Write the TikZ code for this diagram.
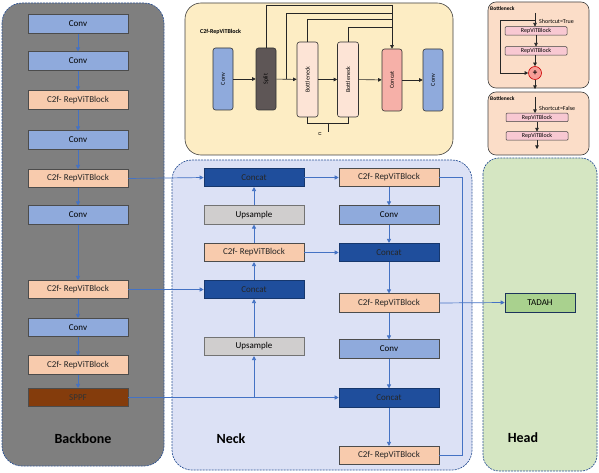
\documentclass[tikz,border=0pt]{standalone}
\usepackage{fontspec}
\setmainfont{Carlito}
\usetikzlibrary{arrows.meta}
\definecolor{convc}{HTML}{8FAADC}
\definecolor{c2fc}{HTML}{F8CBAD}
\definecolor{catc}{HTML}{1F4E9C}
\definecolor{upc}{HTML}{D0CECE}
\definecolor{sppfc}{HTML}{843C0C}
\definecolor{linec}{HTML}{4472C4}
\definecolor{dashc}{HTML}{2F5597}
\definecolor{bbc}{HTML}{7F7F7F}
\definecolor{neckc}{HTML}{DCE1F5}
\definecolor{headc}{HTML}{D5E6C2}
\definecolor{tadahc}{HTML}{A9D18E}
\definecolor{topc}{HTML}{FDEDC4}
\definecolor{splitc}{HTML}{5E5656}
\definecolor{tcatc}{HTML}{F6B0A8}
\definecolor{bnc}{HTML}{FDE4D6}
\definecolor{bnpc}{HTML}{FBDDC8}
\definecolor{rvc}{HTML}{F8C8D2}
\begin{document}
\begin{tikzpicture}[x=1pt,y=-1pt,
	panel/.style={draw=dashc,dash pattern=on 2pt off 1pt,line width=0.7pt,rounded corners=20pt},
	blk/.style={draw=black!70,line width=0.6pt,minimum width=100pt,minimum height=18.5pt,inner sep=0pt,font=\fontsize{9}{10}\selectfont},
	conv/.style={blk,fill=convc},
	c2f/.style={blk,fill=c2fc,text=black!85},
	cat/.style={blk,fill=catc,draw=catc!70!black,text=black!85},
	upsmp/.style={blk,fill=upc,draw=black!55},
	arr/.style={draw=linec,line width=0.7pt,-{Triangle[length=4pt,width=4pt]}},
	link/.style={draw=linec,line width=0.7pt},
	title/.style={font=\fontsize{14}{16}\bfseries\selectfont},
	vblk/.style={draw=black!80,line width=0.6pt,rounded corners=2.5pt,minimum width=62pt,minimum height=20pt,inner sep=0pt,rotate=90,font=\fontsize{6}{7}\selectfont},
	tarr/.style={draw=black!85,line width=0.6pt,-{Triangle[length=3.5pt,width=3.5pt]}},
	tlink/.style={draw=black!85,line width=0.6pt},
	rv/.style={draw=black!75,line width=0.5pt,rounded corners=1pt,fill=rvc,minimum width=62pt,minimum height=8.5pt,inner sep=0pt,font=\fontsize{6}{7}\selectfont},
	small/.style={font=\fontsize{6}{7}\selectfont,inner sep=0pt}]
	\useasboundingbox (0,0) rectangle (599,473);
	% panels
	\draw[panel,fill=bbc] (2,3) rectangle (164,466);
	\draw[panel,fill=neckc] (172,160) rectangle (472,470);
	\draw[panel,fill=headc,rounded corners=16pt] (483,158) rectangle (597,471);
	\node[title] (bbt) at (83,439) {Backbone};
	\node[title] (neckt) at (231,439) {Neck};
	\node[title] (headt) at (523,438) {Head};
	% backbone
	\node[conv] (b1) at (78,24) {Conv};
	\node[conv] (b2) at (78,61) {Conv};
	\node[c2f] (b3) at (78,100) {C2f- RepViTBlock};
	\node[conv] (b4) at (78,140) {Conv};
	\node[c2f] (b5) at (78,178.5) {C2f- RepViTBlock};
	\node[conv] (b6) at (78,215) {Conv};
	\node[c2f] (b7) at (78,289.5) {C2f- RepViTBlock};
	\node[conv] (b8) at (78,327.5) {Conv};
	\node[c2f] (b9) at (78,365) {C2f- RepViTBlock};
	\node[blk,fill=sppfc,text=black!80] (b10) at (78,397.5) {SPPF};
	\foreach \i [evaluate=\i as \j using int(\i+1)] in {1,...,9}
		\draw[arr] (b\i) -- (b\j);
	% neck
	\node[cat] (cat1) at (254,177.5) {Concat};
	\node[upsmp] (up1) at (254,215) {Upsample};
	\node[c2f] (nc2f) at (254,252.5) {C2f- RepViTBlock};
	\node[cat] (cat2) at (254,289.5) {Concat};
	\node[upsmp] (up2) at (254,346.5) {Upsample};
	\node[c2f] (r1) at (389,177.5) {C2f- RepViTBlock};
	\node[conv] (r2) at (389,215) {Conv};
	\node[cat] (r3) at (389,252.5) {Concat};
	\node[c2f] (r4) at (389,303) {C2f- RepViTBlock};
	\node[conv] (r5) at (389,349) {Conv};
	\node[cat] (r6) at (389,398) {Concat};
	\node[c2f] (r7) at (389,455.5) {C2f- RepViTBlock};
	\foreach \a/\b in {r1/r2,r2/r3,r3/r4,r4/r5,r5/r6,r6/r7,up2/cat2,cat2/nc2f,nc2f/up1,up1/cat1,cat1/r1,nc2f/r3}
		\draw[arr] (\a) -- (\b);
	\draw[arr] (b5.east) -- (cat1.west);
	\draw[arr] (b7.east) -- (cat2.west);
	\draw[arr] (b10.east) -- (b10.east -| r6.west);
	\draw[arr] (b10.east -| up2.south) -- (up2.south);
	\draw[link] (r1.east) -- ++(23,0) |- (r7.east);
	% head
	\node[blk,fill=tadahc,draw=dashc!60!black,minimum width=70pt,minimum height=19pt] (tadah) at (540,302.5) {TADAH};
	\draw[arr] (r4.east) -- (tadah.west);
	% C2f-RepViTBlock
	\draw[draw=black!75,line width=0.6pt,fill=topc,rounded corners=16pt] (185,3) rectangle (453,155);
	\node[small,font=\fontsize{6}{7}\bfseries\selectfont,anchor=west] (topt) at (200,32) {C2f-RepViTBlock};
	\node[vblk,fill=convc] (tconv) at (223,79) {Conv};
	\node[vblk,fill=splitc] (split) at (266,79) {Split};
	\node[vblk,fill=bnc,minimum width=75pt,minimum height=21pt] (bn1) at (307.5,79.5) {Bottleneck};
	\node[vblk,fill=bnc,minimum width=75pt,minimum height=21pt] (bn2) at (348,79.5) {Bottleneck};
	\node[vblk,fill=tcatc] (tcat) at (392,80) {Concat};
	\node[vblk,fill=convc] (tconv2) at (433,80) {Conv};
	\foreach \a/\b in {tconv/split,split/bn1,bn1/bn2,bn2/tcat,tcat/tconv2}
		\draw[tarr] (\a) -- (\b);
	\coordinate (tj) at (392,5);
	\coordinate (sb) at (286,79);
	\draw[tlink] (split.east) |- (tj);
	\draw[tlink] (sb) |- (392,13);
	\draw[tlink] (bn1.east) |- (392,19);
	\draw[tlink] (bn2.east) |- (392,27);
	\draw[tarr] (tj) -- (tcat.east);
	\draw[tlink] (bn1.west) -- ++(0,6) -| (bn2.west);
	\draw[tlink] (328,123) -- (328,132);
	\node[small,rotate=90] (nn) at (320,134) {n};
	% Bottleneck panels
	\draw[draw=black!75,line width=0.6pt,fill=bnpc,rounded corners=8pt] (488,2) rectangle (589,88);
	\draw[draw=black!75,line width=0.6pt,fill=bnpc,rounded corners=8pt] (488,92) rectangle (589,155);
	\node[small,font=\fontsize{5.5}{6}\bfseries\selectfont,anchor=west] (bt1) at (490,9) {Bottleneck};
	\node[small,font=\fontsize{5.5}{6}\bfseries\selectfont,anchor=west] (bt2) at (490,99) {Bottleneck};
	\node[rv] (rv1) at (536,31) {RepViTBlock};
	\node[rv] (rv2) at (536,51) {RepViTBlock};
	\node[circle,draw=red!80!black,fill=tcatc!90!red,line width=0.6pt,minimum size=13pt,inner sep=0pt,font=\bfseries\small] (plus) at (535,73) {+};
	\node[rv] (rv3) at (537,117.5) {RepViTBlock};
	\node[rv] (rv4) at (537,136) {RepViTBlock};
	\coordinate (s1) at (535,13);
	\coordinate (s2) at (535,97);
	\draw[tarr] (s1) -- (s1 |- rv1.north);
	\draw[tlink] (535,20) -| (500,73);
	\draw[tarr] (500,73) -- (plus.west);
	\draw[tarr] (rv1) -- (rv2);
	\draw[tarr] (rv2.south -| plus.north) -- (plus.north);
	\draw[tarr] (plus.south) -- (535,89);
	\draw[tarr] (s2) -- (s2 |- rv3.north);
	\draw[tarr] (rv3) -- (rv4);
	\draw[tarr] (rv4.south) -- (537,149);
	\node[small,anchor=west] (sc1) at (539,21) {Shortcut=True};
	\node[small,anchor=west] (sc2) at (539,108) {Shortcut=False};
\end{tikzpicture}
\end{document}
